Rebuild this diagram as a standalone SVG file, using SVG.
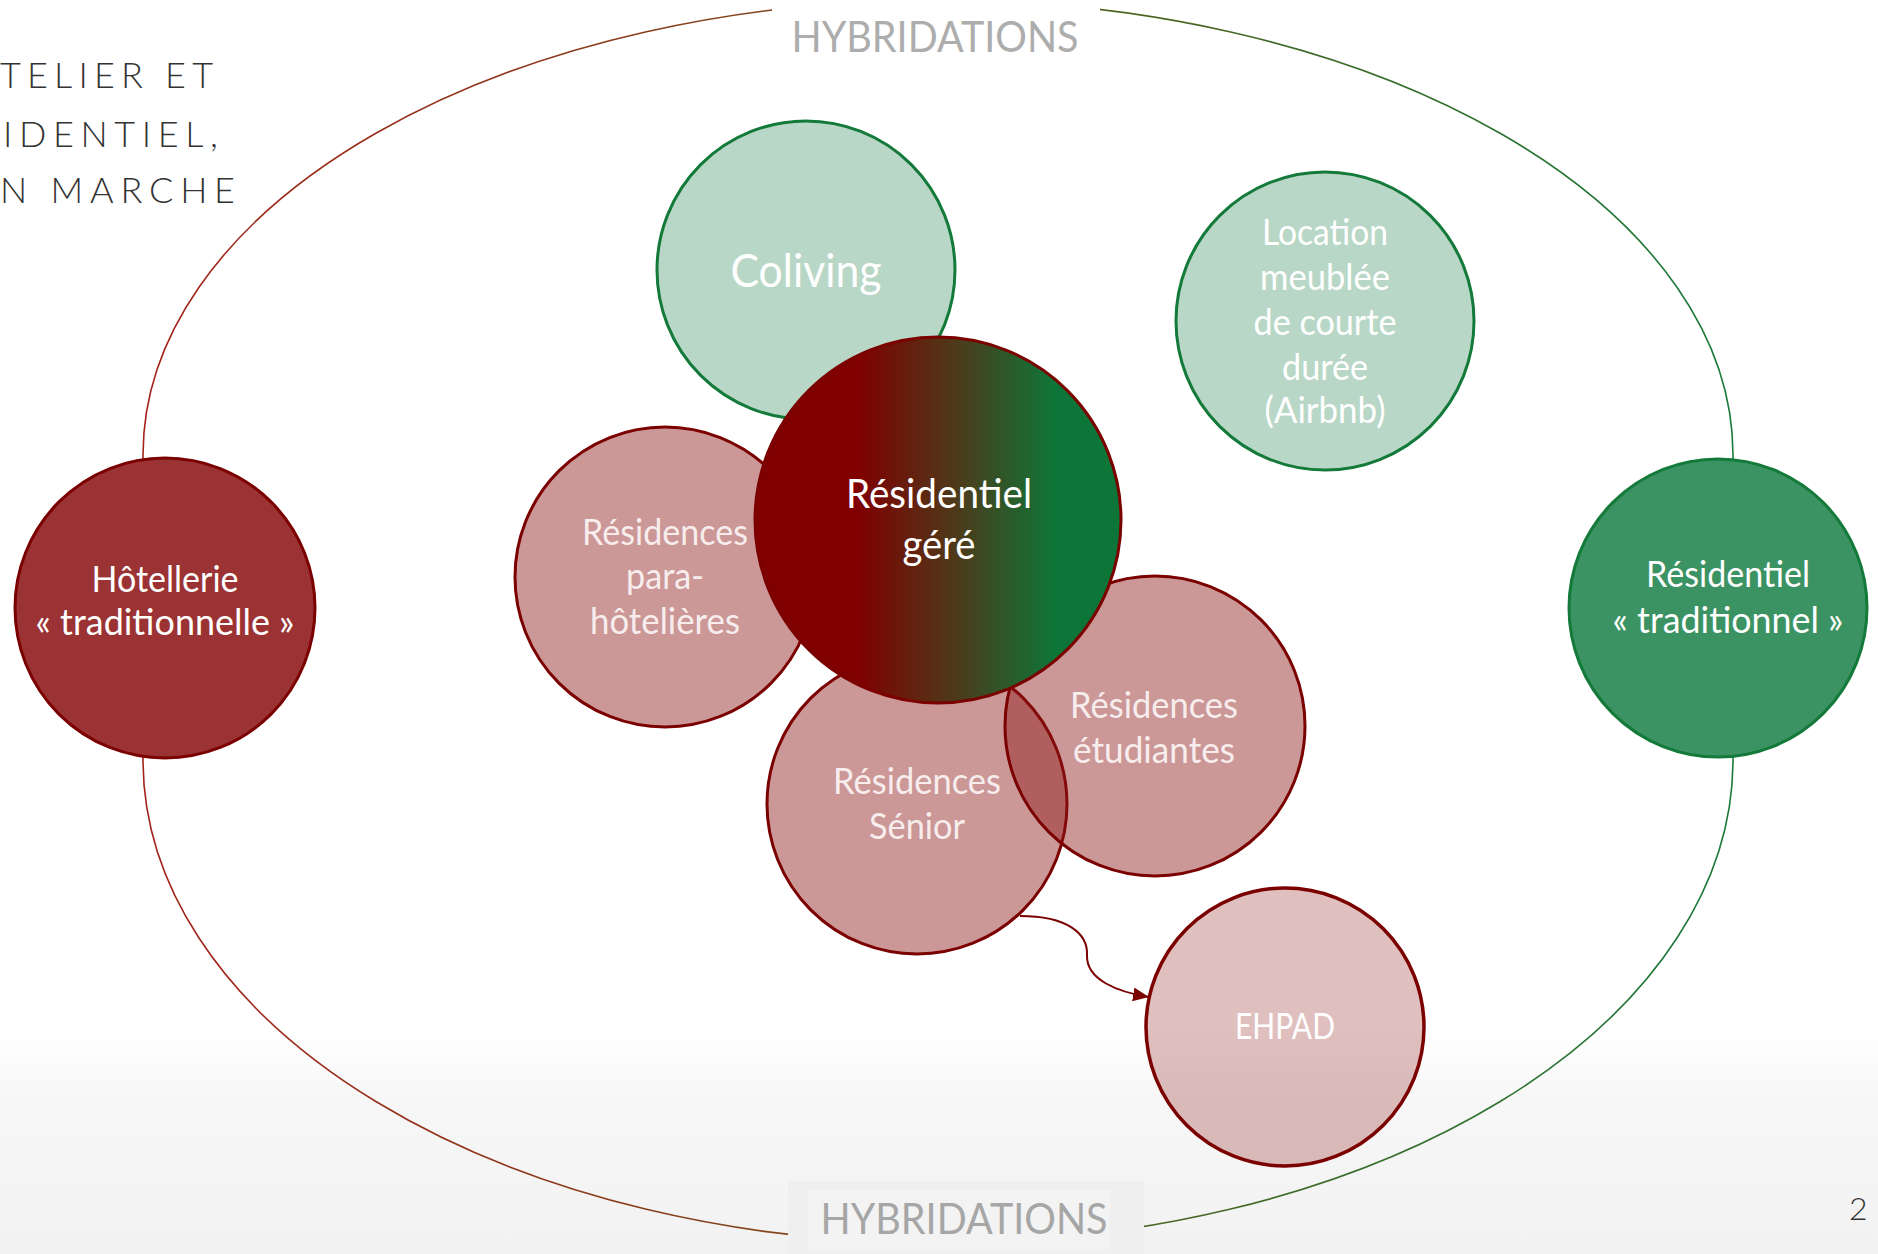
<svg xmlns="http://www.w3.org/2000/svg" width="1878" height="1254" viewBox="0 0 1878 1254">
  <defs>
    <style>
      .lbl { font-family: Lato, "Liberation Sans", sans-serif; fill: #ffffff; text-anchor: middle; font-size: 36px; }
      .lblr { font-family: Lato, "Liberation Sans", sans-serif; fill: #f7eded; text-anchor: middle; font-size: 36px; }
      .hyb { font-family: Lato, "Liberation Sans", sans-serif; font-size: 42px; text-anchor: middle; }
      .title { font-family: Lato, "Liberation Sans", sans-serif; font-weight: 300; font-size: 36px; fill: #333333; }
      .pale-red { fill: #8e1818; fill-opacity: 0.45; stroke: #7b0000; stroke-width: 3; }
      .pale-green { fill: #b9d7c6; stroke: #137a3a; stroke-width: 3; }
    </style>
    <linearGradient id="ringGrad" gradientUnits="userSpaceOnUse" x1="143" y1="0" x2="1733" y2="0">
      <stop offset="0" stop-color="#a3231a"/>
      <stop offset="0.45" stop-color="#7e4a1c"/>
      <stop offset="0.6" stop-color="#4f6420"/>
      <stop offset="1" stop-color="#1a7a3a"/>
    </linearGradient>
    <linearGradient id="gereGrad" x1="0" y1="0" x2="1" y2="0">
      <stop offset="0" stop-color="#800000"/>
      <stop offset="0.28" stop-color="#800000"/>
      <stop offset="0.55" stop-color="#4d3a1a"/>
      <stop offset="0.82" stop-color="#0e7538"/>
      <stop offset="1" stop-color="#0e7538"/>
    </linearGradient>
    <linearGradient id="bgGrad" x1="0" y1="0" x2="0" y2="1">
      <stop offset="0" stop-color="#ffffff"/>
      <stop offset="0.3" stop-color="#f7f7f7"/>
      <stop offset="1" stop-color="#f2f2f2"/>
    </linearGradient>
    <marker id="arrow" markerUnits="userSpaceOnUse" markerWidth="18" markerHeight="16" refX="16" refY="7" orient="auto">
      <path d="M0,0 L16,7 L0,14 z" fill="#7b0000"/>
    </marker>
  </defs>

  <!-- background -->
  <rect x="0" y="0" width="1878" height="1254" fill="#ffffff"/>
  <rect x="0" y="1030" width="1878" height="224" fill="url(#bgGrad)"/>

  <!-- title (cropped) -->
  <g id="title">
    <text class="title" x="0" y="88" textLength="213" lengthAdjust="spacing">TELIER ET</text>
    <text class="title" x="3" y="147" textLength="215" lengthAdjust="spacing">IDENTIEL,</text>
    <text class="title" x="0" y="203" textLength="235" lengthAdjust="spacing">N MARCHE</text>
  </g>

  <!-- big ring -->
  <g id="ring">
    <path d="M143,455 A795,455 0 0 1 1733,455 L1733,760 A795,483 0 0 1 143,760 Z" fill="none" stroke="url(#ringGrad)" stroke-width="1.6"/>
  </g>

  <!-- HYBRIDATIONS labels -->
  <g id="hyb-top">
    <rect x="772" y="0" width="328" height="62" fill="#ffffff"/>
    <text class="hyb" x="935" y="52" fill="#adadad" textLength="287" lengthAdjust="spacingAndGlyphs">HYBRIDATIONS</text>
  </g>
  <g id="hyb-bottom">
    <rect x="788" y="1181" width="356" height="73" fill="#efefef"/>
    <rect x="808" y="1190" width="302" height="59" fill="#f3f3f3"/>
    <text class="hyb" x="964" y="1234" fill="#a6a6a6" textLength="287" lengthAdjust="spacingAndGlyphs">HYBRIDATIONS</text>
  </g>

  <!-- connectors -->
  <g id="connectors">
    <path d="M1020,916 C1068,916 1088,934 1087,955 C1086,980 1118,992 1149,997" fill="none" stroke="#7b0000" stroke-width="2" marker-end="url(#arrow)"/>
  </g>

  <!-- nodes -->
  <g id="hotellerie">
    <circle cx="165" cy="608" r="150" fill="#9b3233" stroke="#7b0000" stroke-width="3"/>
    <text class="lbl" x="165" y="592" textLength="147" lengthAdjust="spacingAndGlyphs">Hôtellerie</text>
    <text class="lbl" x="165" y="635" textLength="259" lengthAdjust="spacingAndGlyphs">« traditionnelle »</text>
  </g>

  <g id="residentiel-traditionnel">
    <circle cx="1718" cy="608" r="149" fill="#3b9262" stroke="#137a3a" stroke-width="3"/>
    <text class="lbl" x="1728" y="587" textLength="164" lengthAdjust="spacingAndGlyphs">Résidentiel</text>
    <text class="lbl" x="1728" y="633" textLength="231" lengthAdjust="spacingAndGlyphs">« traditionnel »</text>
  </g>

  <g id="location-meublee">
    <circle cx="1325" cy="321" r="149" class="pale-green"/>
    <text class="lbl" x="1325" y="245" textLength="126" lengthAdjust="spacingAndGlyphs">Location</text>
    <text class="lbl" x="1325" y="290" textLength="130" lengthAdjust="spacingAndGlyphs">meublée</text>
    <text class="lbl" x="1325" y="335" textLength="143" lengthAdjust="spacingAndGlyphs">de courte</text>
    <text class="lbl" x="1325" y="380" textLength="86" lengthAdjust="spacingAndGlyphs">durée</text>
    <text class="lbl" x="1325" y="423" textLength="121" lengthAdjust="spacingAndGlyphs">(Airbnb)</text>
  </g>

  <g id="para-hotelieres">
    <circle cx="665" cy="577" r="150" class="pale-red"/>
    <text class="lblr" x="665" y="545" textLength="166" lengthAdjust="spacingAndGlyphs">Résidences</text>
    <text class="lblr" x="665" y="589" textLength="78" lengthAdjust="spacingAndGlyphs">para-</text>
    <text class="lblr" x="665" y="634" textLength="150" lengthAdjust="spacingAndGlyphs">hôtelières</text>
  </g>

  <g id="senior">
    <circle cx="917" cy="804" r="150" class="pale-red"/>
    <text class="lblr" x="917" y="794" textLength="168" lengthAdjust="spacingAndGlyphs">Résidences</text>
    <text class="lblr" x="917" y="839" textLength="96" lengthAdjust="spacingAndGlyphs">Sénior</text>
  </g>

  <g id="etudiantes">
    <circle cx="1155" cy="726" r="150" class="pale-red"/>
    <text class="lblr" x="1154" y="718" textLength="168" lengthAdjust="spacingAndGlyphs">Résidences</text>
    <text class="lblr" x="1154" y="763" textLength="162" lengthAdjust="spacingAndGlyphs">étudiantes</text>
  </g>

  <g id="coliving">
    <circle cx="806" cy="270" r="149" class="pale-green"/>
    <text class="lbl" x="806" y="287" style="font-size:46px" textLength="151" lengthAdjust="spacingAndGlyphs">Coliving</text>
  </g>

  <g id="residentiel-gere">
    <circle cx="938" cy="520" r="183" fill="url(#gereGrad)" stroke="#7b0000" stroke-width="3"/>
    <text class="lbl" x="939" y="508" style="font-size:41px" textLength="186" lengthAdjust="spacingAndGlyphs">Résidentiel</text>
    <text class="lbl" x="939" y="559" style="font-size:41px" textLength="73" lengthAdjust="spacingAndGlyphs">géré</text>
  </g>

  <g id="ehpad">
    <circle cx="1285" cy="1027" r="139" fill="#8e1818" fill-opacity="0.28" stroke="#7b0000" stroke-width="3.5"/>
    <text class="lbl" x="1285" y="1039" textLength="100" lengthAdjust="spacingAndGlyphs">EHPAD</text>
  </g>

  <!-- page number -->
  <text x="1849" y="1220" font-family="Lato, 'Liberation Sans', sans-serif" font-weight="300" font-size="32" fill="#333333">2</text>
</svg>
